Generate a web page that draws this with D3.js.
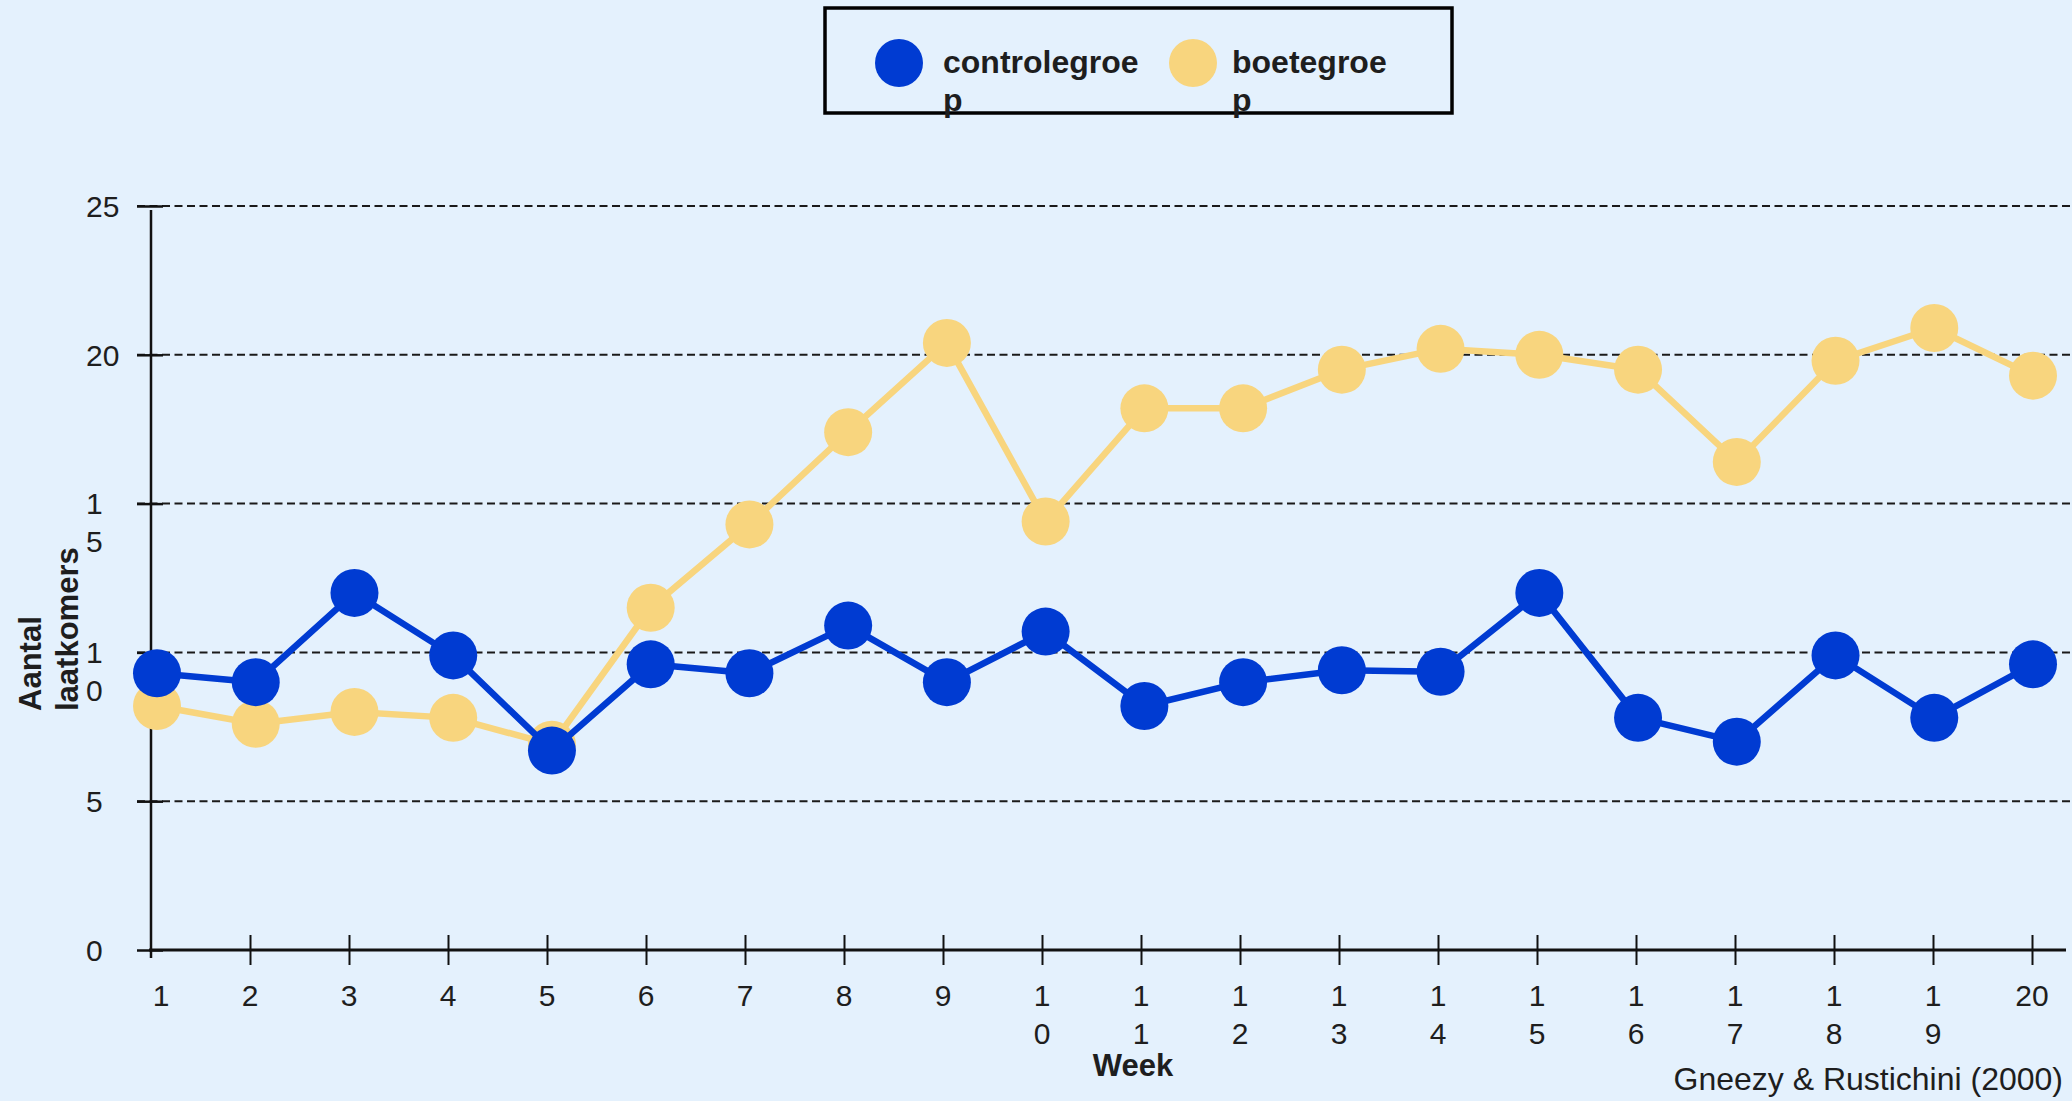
<!DOCTYPE html>
<meta charset="utf-8">

<head>
  <script src="https://d3js.org/d3.v7.min.js"></script>
</head>
<style>
  body {
    margin: 0;
    background: #e4f1fd;
  }

  svg {
    display: block;
    font-family: "Liberation Sans", Arial, sans-serif;
  }
</style>

<body>
  <script>
    // data
    var weeks = [1, 2, 3, 4, 5, 6, 7, 8, 9, 10, 11, 12, 13, 14, 15, 16, 17, 18, 19, 20];
    var weekLabels = ["1", "2", "3", "4", "5", "6", "7", "8", "9", "1\n0", "1\n1", "1\n2", "1\n3",
      "1\n4", "1\n5", "1\n6", "1\n7", "1\n8", "1\n9", "20"];
    var controlegroep = [9.3, 9.0, 12.0, 9.9, 6.7, 9.6, 9.3, 10.9, 9.0, 10.7,
      8.2, 9.0, 9.4, 9.35, 12.0, 7.8, 7.0, 9.9, 7.8, 9.6];
    var boetegroep = [8.2, 7.6, 8.0, 7.8, 6.9, 11.5, 14.3, 17.4, 20.4, 14.4,
      18.2, 18.2, 19.5, 20.2, 20.0, 19.5, 16.4, 19.8, 20.9, 19.3];
    var yTicks = [0, 5, 10, 15, 20, 25];
    var yTickLabels = ["0", "5", "1\n0", "1\n5", "20", "25"];
    var legendLabels = [["controlegroe", "p"], ["boetegroe", "p"]];

    var blue = "#003bd2", yellow = "#f8d57e";

    var W = 2072, H = 1101;
    var svg = d3.select("body").append("svg")
      .attr("width", W)
      .attr("height", H);

    // ticks and the plotted points sit on slightly different ranges
    var x = d3.scaleLinear().domain([1, 20]).range([151, 2032]);
    var xp = d3.scaleLinear().domain([1, 20]).range([157, 2033]);
    var y = d3.scaleLinear().domain([0, 25]).range([950, 206]);

    // dashed grid
    svg.append("g").selectAll("line")
      .data(yTicks.filter(function (d) { return d > 0; }))
      .enter().append("line")
      .attr("x1", 137).attr("x2", W)
      .attr("y1", function (d) { return y(d); })
      .attr("y2", function (d) { return y(d); })
      .attr("stroke", "#1a1a1a")
      .attr("stroke-width", 2)
      .attr("stroke-dasharray", "8,4.5");

    // y axis
    var yAxis = svg.append("g")
      .attr("transform", "translate(151,0)")
      .call(d3.axisLeft(y).tickValues(yTicks).tickSize(14).tickFormat(""));
    yAxis.select(".domain").remove();
    yAxis.selectAll(".tick line")
      .attr("x1", -14).attr("x2", 12)
      .attr("stroke", "#111").attr("stroke-width", 2.5);
    svg.append("line")
      .attr("x1", 151).attr("x2", 151)
      .attr("y1", 210).attr("y2", 958)
      .attr("stroke", "#111").attr("stroke-width", 2.5);

    yTicks.forEach(function (t, i) {
      var lines = yTickLabels[i].split("\n");
      var txt = svg.append("text")
        .attr("x", 86)
        .attr("y", y(t) + 10.7)
        .attr("font-size", 30)
        .attr("fill", "#1e1e1e");
      lines.forEach(function (l, j) {
        txt.append("tspan").attr("x", 86).attr("dy", j ? 38 : 0).text(l);
      });
    });

    // x axis
    var xAxis = svg.append("g")
      .attr("transform", "translate(0,950)")
      .call(d3.axisBottom(x).tickValues(weeks.slice(1)).tickSize(15).tickFormat(""));
    xAxis.select(".domain").remove();
    xAxis.selectAll(".tick line")
      .attr("y1", -15).attr("y2", 15)
      .attr("stroke", "#111").attr("stroke-width", 2);
    svg.append("line")
      .attr("x1", 149).attr("x2", 2066)
      .attr("y1", 950).attr("y2", 950)
      .attr("stroke", "#111").attr("stroke-width", 3);

    weeks.forEach(function (w, i) {
      var lines = weekLabels[i].split("\n");
      var txt = svg.append("text")
        .attr("text-anchor", "middle")
        .attr("y", 1006)
        .attr("font-size", 30)
        .attr("fill", "#1e1e1e");
      lines.forEach(function (l, j) {
        txt.append("tspan").attr("x", x(w) + (i == 0 ? 10 : 0)).attr("dy", j ? 38 : 0).text(l);
      });
    });

    // axis titles
    svg.append("text")
      .attr("x", 1133).attr("y", 1076)
      .attr("text-anchor", "middle")
      .attr("font-size", 31).attr("font-weight", "bold")
      .attr("fill", "#1e1e1e")
      .text("Week");

    var yt = svg.append("text")
      .attr("transform", "translate(41,711) rotate(-90)")
      .attr("font-size", 31).attr("font-weight", "bold")
      .attr("fill", "#1e1e1e");
    yt.append("tspan").attr("x", 0).text("Aantal");
    yt.append("tspan").attr("x", 0).attr("dy", 37).text("laatkomers");

    svg.append("text")
      .attr("x", 2063).attr("y", 1090)
      .attr("text-anchor", "end")
      .attr("font-size", 32)
      .attr("fill", "#1e1e1e")
      .text("Gneezy & Rustichini (2000)");

    // series: boete first so the control dots sit on top
    var series = [
      { values: boetegroep, color: yellow },
      { values: controlegroep, color: blue }
    ];

    var line = d3.line()
      .x(function (d, i) { return xp(weeks[i]); })
      .y(function (d) { return y(d); });

    series.forEach(function (s) {
      var g = svg.append("g");
      g.append("path")
        .datum(s.values)
        .attr("d", line)
        .attr("fill", "none")
        .attr("stroke", s.color)
        .attr("stroke-width", 6.5)
        .attr("stroke-linejoin", "round");
      g.selectAll("circle")
        .data(s.values)
        .enter().append("circle")
        .attr("cx", function (d, i) { return xp(weeks[i]); })
        .attr("cy", function (d) { return y(d); })
        .attr("r", 24)
        .attr("fill", s.color);
    });

    // legend
    var legend = svg.append("g");
    legend.append("rect")
      .attr("x", 825).attr("y", 8)
      .attr("width", 627).attr("height", 105)
      .attr("fill", "none")
      .attr("stroke", "#000")
      .attr("stroke-width", 3.5);

    var legendItems = [
      { dx: 899, tx: 943, color: blue, label: legendLabels[0] },
      { dx: 1193, tx: 1232, color: yellow, label: legendLabels[1] }
    ];
    legendItems.forEach(function (it) {
      legend.append("circle")
        .attr("cx", it.dx).attr("cy", 63)
        .attr("r", 24)
        .attr("fill", it.color);
      var t = legend.append("text")
        .attr("y", 73)
        .attr("font-size", 32).attr("font-weight", "bold")
        .attr("fill", "#1e1e1e");
      it.label.forEach(function (l, j) {
        t.append("tspan").attr("x", it.tx).attr("dy", j ? 38 : 0).text(l);
      });
    });
  </script>
</body>
